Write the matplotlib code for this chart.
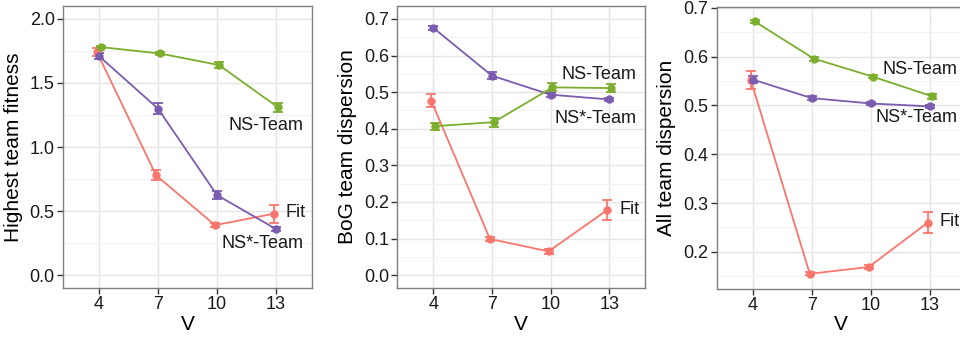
import numpy as np
import matplotlib.pyplot as plt
from matplotlib.ticker import MultipleLocator

plt.rcParams['font.family'] = ['Liberation Sans', 'DejaVu Sans']

V = [4, 7, 10, 13]

# Highest team fitness
fit_best = [1.74, 0.78, 0.39, 0.48]
fit_best_err = [0.03, 0.04, 0.015, 0.07]
ns_best = [1.78, 1.73, 1.64, 1.31]
ns_best_err = [0.01, 0.01, 0.02, 0.035]
nss_best = [1.71, 1.30, 0.625, 0.36]
nss_best_err = [0.02, 0.04, 0.03, 0.015]

# BoG team dispersion
fit_bog = [0.477, 0.099, 0.065, 0.178]
fit_bog_err = [0.018, 0.006, 0.006, 0.028]
ns_bog = [0.407, 0.418, 0.513, 0.511]
ns_bog_err = [0.01, 0.012, 0.011, 0.011]
nss_bog = [0.676, 0.545, 0.493, 0.480]
nss_bog_err = [0.005, 0.009, 0.005, 0.004]

# All team dispersion
fit_all = [0.552, 0.155, 0.169, 0.260]
fit_all_err = [0.019, 0.003, 0.005, 0.022]
ns_all = [0.672, 0.596, 0.559, 0.519]
ns_all_err = [0.004, 0.004, 0.003, 0.005]
nss_all = [0.553, 0.515, 0.504, 0.498]
nss_all_err = [0.007, 0.004, 0.003, 0.003]

red = '#F8766D'
green = '#7CAE2E'
purple = '#7B5CAF'


def draw_panel(ax, fit, fit_e, ns, ns_e, nss, nss_e, ylabel, ylim, major, minor,
               ns_lab_y, nss_lab_y, fit_lab_y):
    x = np.array(V, dtype=float)
    for vals, errs, col, off in [(fit, fit_e, red, -0.1), (nss, nss_e, purple, 0.0),
                                 (ns, ns_e, green, 0.1)]:
        ax.errorbar(x + off, vals, yerr=errs, color=col, lw=1.3, marker='o', ms=5,
                    capsize=3.5, capthick=1.3, elinewidth=1.3, zorder=3)
    ax.text(14.4, ns_lab_y, 'NS-Team', ha='right', va='center', fontsize=13, color='#1a1a1a')
    ax.text(14.4, nss_lab_y, 'NS*-Team', ha='right', va='center', fontsize=13, color='#1a1a1a')
    ax.text(13.5, fit_lab_y, 'Fit', ha='left', va='center', fontsize=13, color='#1a1a1a')
    ax.set_xlim(2.17, 14.83)
    ax.set_ylim(*ylim)
    ax.set_xticks(V)
    ax.yaxis.set_major_locator(MultipleLocator(major))
    ax.yaxis.set_minor_locator(MultipleLocator(minor))
    ax.grid(True, which='major', color='#e5e5e5', lw=1.0)
    ax.grid(True, which='minor', axis='y', color='#f3f3f3', lw=0.8)
    ax.set_axisbelow(True)
    for s in ax.spines.values():
        s.set_color('#7f7f7f')
        s.set_linewidth(1.0)
    ax.tick_params(which='major', length=4, width=1, color='#333333', labelsize=13,
                   labelcolor='#1a1a1a', pad=2)
    ax.tick_params(which='minor', length=0)
    ax.set_xlabel('V', fontsize=15, labelpad=1)
    ax.set_ylabel(ylabel, fontsize=15, labelpad=5)


fig = plt.figure(figsize=(9.6, 3.38), dpi=100)
ax1 = fig.add_axes([0.0656, 0.148, 0.2594, 0.834])
ax2 = fig.add_axes([0.4139, 0.148, 0.258, 0.834])
ax3 = fig.add_axes([0.7466, 0.146, 0.2594, 0.8345])

draw_panel(ax1, fit_best, fit_best_err, ns_best, ns_best_err, nss_best, nss_best_err,
           'Highest team fitness', (-0.1, 2.1), 0.5, 0.25, 1.165, 0.245, 0.49)
ax1.yaxis.set_major_formatter(plt.FormatStrFormatter('%.1f'))
draw_panel(ax2, fit_bog, fit_bog_err, ns_bog, ns_bog_err, nss_bog, nss_bog_err,
           'BoG team dispersion', (-0.035, 0.735), 0.1, 0.05, 0.548, 0.427, 0.178)
ax2.yaxis.set_major_formatter(plt.FormatStrFormatter('%.1f'))
draw_panel(ax3, fit_all, fit_all_err, ns_all, ns_all_err, nss_all, nss_all_err,
           'All team dispersion', (0.1246, 0.7025), 0.1, 0.05, 0.573, 0.475, 0.262)
ax3.yaxis.set_major_formatter(plt.FormatStrFormatter('%.1f'))

fig.savefig('out.png', dpi=100)
